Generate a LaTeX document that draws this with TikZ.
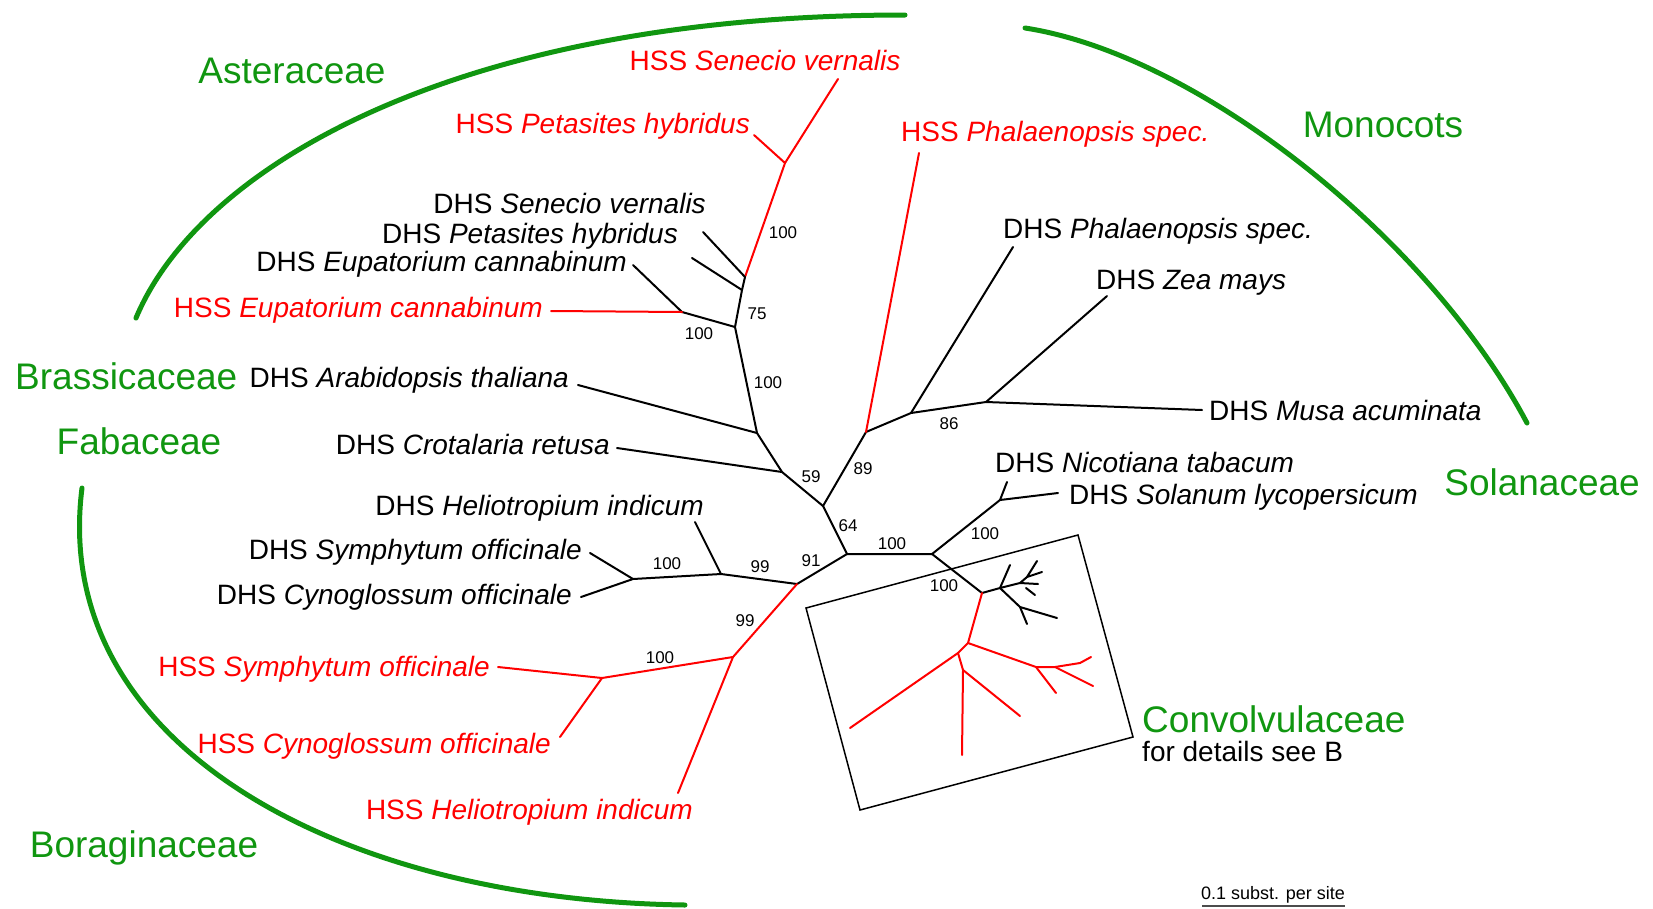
\documentclass[tikz,border=0pt]{standalone}
\usepackage{fontspec}
\setmainfont{Liberation Sans}
\usetikzlibrary{positioning}

\definecolor{hssred}{RGB}{255,0,0}
\definecolor{famgreen}{RGB}{16,150,16}

\begin{document}
\begin{tikzpicture}[x=1pt, y=-1pt,
	branch/.style={line width=2pt, line cap=round, line join=round},
	hss/.style={branch, draw=hssred},
	taxon/.style={inner sep=0pt, font=\fontsize{28}{32}\selectfont, text height=20pt, text depth=0pt},
	hsslbl/.style={taxon, text=hssred},
	boot/.style={inner sep=0pt, font=\fontsize{17}{20}\selectfont, text height=12pt, text depth=0pt},
	family/.style={inner sep=0pt, text=famgreen, font=\fontsize{37}{42}\selectfont, text height=26.5pt, text depth=0pt},
	clade/.style={draw=famgreen, line width=5pt, line cap=round}]
		\useasboundingbox (0,0) rectangle (1653,908);

		% Tips and inner nodes of the tree
		\coordinate (tSenH) at (838,79);
		\coordinate (tPetH) at (754,135);
		\coordinate (nHS) at (785,163);
		\coordinate (nA1) at (745,277);
		\coordinate (tSenD) at (703,232);
		\coordinate (nA2) at (742,290);
		\coordinate (tPetD) at (692,258);
		\coordinate (nA3) at (735,327);
		\coordinate (nEup) at (682,312);
		\coordinate (tEupD) at (633,265);
		\coordinate (tEupH) at (551,311);
		\coordinate (nB) at (757,433);
		\coordinate (tAra) at (578,385);
		\coordinate (nC) at (782,472);
		\coordinate (tCro) at (617,448);
		\coordinate (nD) at (823,506);
		\coordinate (nF) at (866,432);
		\coordinate (tPhaH) at (919,153);
		\coordinate (nN) at (911,413);
		\coordinate (tPhaD) at (1013,247);
		\coordinate (nO) at (986,402);
		\coordinate (tZea) at (1107,296);
		\coordinate (tMusa) at (1202,410);
		\coordinate (nG) at (847,554);
		\coordinate (nH) at (932,554);
		\coordinate (nP) at (1000,500);
		\coordinate (tNic) at (1007,482);
		\coordinate (tSol) at (1058,493);
		\coordinate (nQ) at (982,593);
		\coordinate (nI) at (797,584);
		\coordinate (nJ) at (721,574);
		\coordinate (tHelD) at (695,522);
		\coordinate (nK) at (633,579);
		\coordinate (tSymD) at (590,553);
		\coordinate (tCynD) at (581,597);
		\coordinate (nL) at (733,657);
		\coordinate (nM) at (602,678);
		\coordinate (tSymH) at (498,667);
		\coordinate (tCynH) at (560,737);
		\coordinate (tHelH) at (678,793);

		% Draw the branches
		\draw[hss] (tSenH) -- (nHS) -- (tPetH);
		\draw[hss] (nHS) -- (nA1);
		\draw[branch] (tSenD) -- (nA1) -- (nA2) -- (nA3) -- (nB);
		\draw[branch] (tPetD) -- (nA2);
		\draw[branch] (nA3) -- (nEup) -- (tEupD);
		\draw[hss] (nEup) -- (tEupH);
		\draw[branch] (tAra) -- (nB) -- (nC) -- (nD) -- (nG) -- (nH);
		\draw[branch] (tCro) -- (nC);
		\draw[branch] (nD) -- (nF) -- (nN) -- (nO) -- (tMusa);
		\draw[hss] (nF) -- (tPhaH);
		\draw[branch] (nN) -- (tPhaD);
		\draw[branch] (nO) -- (tZea);
		\draw[branch] (nH) -- (nP) -- (tSol);
		\draw[branch] (nP) -- (tNic);
		\draw[branch] (nH) -- (nQ);
		\draw[branch] (nG) -- (nI) -- (nJ) -- (nK) -- (tSymD);
		\draw[branch] (nK) -- (tCynD);
		\draw[branch] (nJ) -- (tHelD);
		\draw[hss] (nI) -- (nL) -- (nM) -- (tSymH);
		\draw[hss] (nM) -- (tCynH);
		\draw[hss] (nL) -- (tHelH);

		% Convolvulaceae subtree
		\coordinate (nU) at (1000,588);
		\coordinate (tU1) at (1010,565);
		\coordinate (nV) at (1020,583);
		\coordinate (nV2) at (1027,577);
		\coordinate (tV1) at (1037,561);
		\coordinate (tV2) at (1042,572);
		\coordinate (tV3) at (1038,584);
		\coordinate (nV3) at (1026,588);
		\coordinate (tV4) at (1035,595);
		\coordinate (nX) at (1020,607);
		\coordinate (tX1) at (1027,624);
		\coordinate (tX2) at (1057,618);
		\coordinate (nR) at (968,643);
		\coordinate (nS) at (958,653);
		\coordinate (tS1) at (850,728);
		\coordinate (nT) at (963,670);
		\coordinate (tT1) at (962,755);
		\coordinate (tT2) at (1020,716);
		\coordinate (nY) at (1036,667);
		\coordinate (tY1) at (1056,693);
		\coordinate (nZ) at (1055,667);
		\coordinate (tZ1) at (1093,686);
		\coordinate (nZ2) at (1080,663);
		\coordinate (tZ2) at (1091,657);

		\draw[branch] (nQ) -- (nU) -- (tU1);
		\draw[branch] (nU) -- (nV) -- (tV3);
		\draw[branch] (nV) -- (nV2) -- (tV1);
		\draw[branch] (nV2) -- (tV2);
		\draw[branch] (nV3) -- (tV4);
		\draw[branch] (nU) -- (nX) -- (tX1);
		\draw[branch] (nX) -- (tX2);
		\draw[hss] (nQ) -- (nR) -- (nS) -- (tS1);
		\draw[hss] (nS) -- (nT) -- (tT1);
		\draw[hss] (nT) -- (tT2);
		\draw[hss] (nR) -- (nY) -- (tY1);
		\draw[hss] (nY) -- (nZ) -- (tZ1);
		\draw[hss] (nZ) -- (nZ2) -- (tZ2);

		% Draw the box round it
		\coordinate (bx1) at (806,608);
		\coordinate (bx2) at (1078,535);
		\coordinate (bx3) at (1133,737);
		\coordinate (bx4) at (860,810);
		\draw[line width=1.5pt] (bx1) -- (bx2) -- (bx3) -- (bx4) -- cycle;

		% Taxon labels
		\node[hsslbl] (lSenH) at (765,60) {HSS \textit{Senecio vernalis}};
		\node[hsslbl, anchor=east] (lPetH) at (750,123) {HSS \textit{Petasites hybridus}};
		\node[taxon, anchor=east] (lSenD) at (706,203) {DHS \textit{Senecio vernalis}};
		\node[taxon, anchor=east] (lPetD) at (678,233) {DHS \textit{Petasites hybridus}};
		\node[taxon, anchor=east] (lEupD) at (627,261) {DHS \textit{Eupatorium cannabinum}};
		\node[hsslbl, anchor=east] (lEupH) at (543,307) {HSS \textit{Eupatorium cannabinum}};
		\node[taxon, anchor=east] (lAra) at (569,377) {DHS \textit{Arabidopsis thaliana}};
		\node[taxon, anchor=east] (lCro) at (610,444) {DHS \textit{Crotalaria retusa}};
		\node[taxon, anchor=east] (lHelD) at (704,505) {DHS \textit{Heliotropium indicum}};
		\node[taxon, anchor=east] (lSymD) at (582,549) {DHS \textit{Symphytum officinale}};
		\node[taxon, anchor=east] (lCynD) at (572,594) {DHS \textit{Cynoglossum officinale}};
		\node[hsslbl, anchor=east] (lSymH) at (490,666) {HSS \textit{Symphytum officinale}};
		\node[hsslbl, anchor=east] (lCynH) at (551,743) {HSS \textit{Cynoglossum officinale}};
		\node[hsslbl, anchor=east] (lHelH) at (693,809) {HSS \textit{Heliotropium indicum}};
		\node[hsslbl, anchor=west] (lPhaH) at (901,131) {HSS \textit{Phalaenopsis spec.}};
		\node[taxon, anchor=west] (lPhaD) at (1003,228) {DHS \textit{Phalaenopsis spec.}};
		\node[taxon, anchor=west] (lZea) at (1096,279) {DHS \textit{Zea mays}};
		\node[taxon, anchor=west] (lMusa) at (1209,410) {DHS \textit{Musa acuminata}};
		\node[taxon, anchor=west] (lNic) at (995,462) {DHS \textit{Nicotiana tabacum}};
		\node[taxon, anchor=west] (lSol) at (1069,494) {DHS \textit{Solanum lycopersicum}};

		% Bootstrap values
		\node[boot] (b1) at (783,232) {100};
		\node[boot] (b2) at (757,313) {75};
		\node[boot] (b3) at (699,333) {100};
		\node[boot] (b4) at (768,382) {100};
		\node[boot] (b5) at (811,476) {59};
		\node[boot] (b6) at (863,468) {89};
		\node[boot] (b7) at (949,423) {86};
		\node[boot] (b8) at (848,525) {64};
		\node[boot] (b9) at (892,543) {100};
		\node[boot] (b10) at (811,560) {91};
		\node[boot] (b11) at (760,566) {99};
		\node[boot] (b12) at (667,563) {100};
		\node[boot] (b13) at (745,620) {99};
		\node[boot] (b14) at (660,657) {100};
		\node[boot] (b15) at (985,533) {100};
		\node[boot] (b16) at (944,585) {100};

		% Draw the family arcs
		\coordinate (arcA1) at (136,318);
		\coordinate (arcA2) at (905,15);
		\coordinate (arcM1) at (1025,28);
		\coordinate (arcM2) at (1527,423);
		\coordinate (arcB1) at (82,488);
		\coordinate (arcB2) at (685,905);
		\draw[clade] (arcA1) .. controls (200,165) and (460,15) .. (arcA2);
		\draw[clade] (arcM1) .. controls (1200,55) and (1430,240) .. (arcM2);
		\draw[clade] (arcB1) .. controls (50,740) and (330,900) .. (arcB2);

		\node[family] (fAst) at (292,70) {Asteraceae};
		\node[family] (fMono) at (1383,124) {Monocots};
		\node[family, anchor=west] (fBra) at (15,376) {Brassicaceae};
		\node[family] (fFab) at (139,441) {Fabaceae};
		\node[family, anchor=east] (fSol) at (1640,482) {Solanaceae};
		\node[family, anchor=west] (fCon) at (1142,719) {Convolvulaceae};
		\node[taxon, anchor=west] (fConB) at (1142,751) {for details see B};
		\node[family] (fBor) at (144,844) {Boraginaceae};

		% Scale bar
		\node[inner sep=0pt, font=\fontsize{18}{20}\selectfont, text height=13pt, text depth=0pt] (sbar) at (1273,893) {0.1 subst. per site};
		\coordinate (sb1) at (1202,906);
		\coordinate (sb2) at (1345,906);
		\draw[line width=1.5pt, black!70] (sb1) -- (sb2);

	\end{tikzpicture}
\end{document}
